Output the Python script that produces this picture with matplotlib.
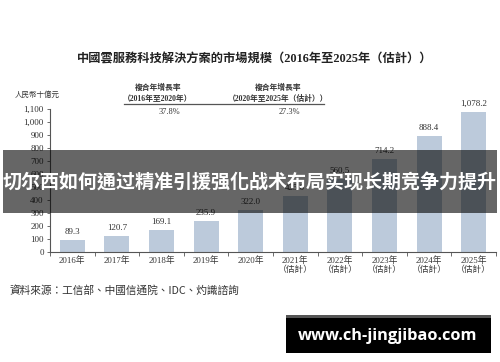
import matplotlib.pyplot as plt
from matplotlib.patches import Rectangle

# 数据
years = ['2016年', '2017年', '2018年', '2019年', '2020年',
         '2021年\n（估計）', '2022年\n（估計）', '2023年\n（估計）', '2024年\n（估計）', '2025年\n（估計）']
values = [89.3, 120.7, 169.1, 235.9, 322.0, 425.0, 560.5, 714.2, 888.4, 1078.2]
yticks = list(range(0, 1200, 100))
title = '中國雲服務科技解決方案的市場規模（2016年至2025年（估計））'
cagr_head = ['複合年增長率', '複合年增長率']
cagr_period = ['（2016年至2020年）', '（2020年至2025年（估計））']
cagr_value = ['37.8%', '27.3%']
banner = '切尔西如何通过精准引援强化战术布局实现长期竞争力提升'
source = '資料來源：工信部、中國信通院、IDC、灼識諮詢'
site = 'www.ch-jingjibao.com'

serif = ['Liberation Serif', 'Noto Sans CJK TC']
cjk = ['Noto Sans CJK TC', 'DejaVu Sans']
bar_color = '#bccadb'
txt = '#333333'

fig = plt.figure(figsize=(5, 3.62), dpi=100)
W, H = 500, 362

def fx(px):
    return px / W

def fy(py):
    return 1 - py / H

ax = fig.add_axes([fx(50), fy(251.7), fx(496) - fx(50), fy(108.7) - fy(251.7)])
x = list(range(len(values)))
ax.bar(x, values, width=0.56, color=bar_color, zorder=2)
for xi, v in zip(x, values):
    ax.annotate(f'{v:,.1f}', (xi, v), xytext=(0, 3), textcoords='offset points',
                ha='center', va='bottom', fontsize=6.5, family=serif, color=txt,
                annotation_clip=False)

ax.set_xlim(-0.5, len(values) - 0.5)
ax.set_ylim(0, 1100)
ax.set_yticks(yticks)
ax.set_yticklabels([f'{t:,}' for t in yticks], family=serif, fontsize=6.5, color=txt)
ax.set_xticks(x)
ax.set_xticklabels(years, family=serif, fontsize=6.3, color=txt, linespacing=1.1)
ax.set_xticks([i - 0.5 for i in range(len(values) + 1)], minor=True)
ax.tick_params(axis='x', which='major', length=0, pad=3)
ax.tick_params(axis='x', which='minor', length=3, direction='out', color='#555555')
ax.tick_params(axis='y', length=2.5, width=0.6, color='#555555', pad=2)
for s in ['top', 'right']:
    ax.spines[s].set_visible(False)
for s in ['left', 'bottom']:
    ax.spines[s].set_color('#555555')
    ax.spines[s].set_linewidth(0.8)

# 标题与注释
fig.text(fx(254.5), fy(60), title, ha='center', va='center', fontsize=8.8,
         fontweight='bold', family=serif, color='#222222')
fig.text(fx(37), fy(95), '人民幣十億元', ha='center', va='center', fontsize=5.4,
         style='italic', family=cjk, color=txt)
for cx, h, p, cv in zip([158, 278], cagr_head, cagr_period, cagr_value):
    fig.text(fx(cx), fy(87.7), h, ha='center', va='center', fontsize=5.6,
             fontweight='bold', family=cjk, color=txt)
    fig.text(fx(cx), fy(99), p, ha='center', va='center', fontsize=5.6,
             fontweight='bold', family=serif, color=txt)
    fig.text(fx(cx + 11), fy(111.5), cv, ha='center', va='center', fontsize=6,
             family=serif, color=txt)
fig.add_artist(plt.Line2D([fx(124), fx(324)], [fy(104), fy(104)], color='#555555', lw=0.9))

fig.text(fx(10), fy(290), source, ha='left', va='center', fontsize=7.7,
         style='italic', family=cjk, color=txt)

# 横幅
fig.add_artist(Rectangle((fx(3), fy(213)), fx(497) - fx(3), fy(150) - fy(213),
                         transform=fig.transFigure, facecolor='black', alpha=0.6,
                         edgecolor='none', zorder=5))
fig.text(fx(250), fy(182), banner, ha='center', va='center', fontsize=13.7,
         fontweight='bold', family=cjk, color='white', zorder=6)

# 水印
fig.add_artist(Rectangle((fx(286), fy(353)), fx(491) - fx(286), fy(315) - fy(353),
                         transform=fig.transFigure, facecolor='black',
                         edgecolor='none', zorder=5))
fig.add_artist(Rectangle((fx(286), fy(318)), fx(491) - fx(286), fy(315) - fy(318),
                         transform=fig.transFigure, facecolor='#555555',
                         edgecolor='none', zorder=6))
fig.text(fx(388), fy(336), site, ha='center', va='center', fontsize=11.8,
         fontweight='bold', family=['Open Sans', 'DejaVu Sans'], color='white', zorder=7)

fig.savefig('out.png', dpi=100)
